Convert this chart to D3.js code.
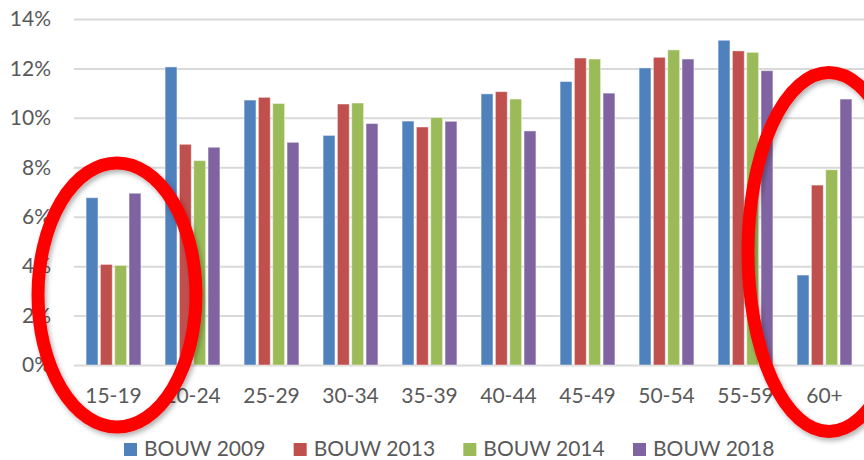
<!DOCTYPE html>
<html>
<head>
<meta charset="utf-8">
<script src="https://cdn.jsdelivr.net/npm/d3@7"></script>
<style>
  html, body { margin: 0; padding: 0; background: #fff; }
  svg { display: block; font-family: Lato, "Open Sans", sans-serif; }
</style>
</head>
<body>
<svg id="chart" width="864" height="460"></svg>
<script>
const categories = ["15-19","20-24","25-29","30-34","35-39","40-44","45-49","50-54","55-59","60+"];
const seriesNames = ["BOUW 2009","BOUW 2013","BOUW 2014","BOUW 2018"];
const bouw2009 = [6.77, 12.06, 10.72, 9.29, 9.87, 10.97, 11.47, 12.02, 13.14, 3.64];
const bouw2013 = [4.07, 8.93, 10.83, 10.56, 9.63, 11.06, 12.42, 12.45, 12.71, 7.28];
const bouw2014 = [4.03, 8.27, 10.58, 10.60, 10.01, 10.76, 12.38, 12.75, 12.65, 7.90];
const bouw2018 = [6.95, 8.81, 9.01, 9.77, 9.86, 9.47, 11.00, 12.38, 11.91, 10.76];
const yTicks = [0, 2, 4, 6, 8, 10, 12, 14];
const colors = ["#4F81BD", "#C0504D", "#9BBB59", "#8064A2"];

const seriesValues = [bouw2009, bouw2013, bouw2014, bouw2018];
const svg = d3.select("#chart");

const plotLeft = 74, plotRight = 864, plotTop = 19, plotBottom = 365;
const fontSize = 21;

const y = d3.scaleLinear().domain([0, 14]).range([plotBottom, plotTop]);
const x0 = d3.scaleBand().domain(categories).range([plotLeft, plotRight])
  .paddingInner(0.275).paddingOuter(0.1375);
const x1 = d3.scaleBand().domain(seriesNames).range([0, x0.bandwidth()])
  .paddingInner(0.17).paddingOuter(0.085);

// gridlines + y labels
const yAxis = d3.axisLeft(y).tickValues(yTicks).tickFormat(d => d + "%")
  .tickSize(-(plotRight - plotLeft)).tickPadding(23);
const gy = svg.append("g").attr("transform", `translate(${plotLeft},0)`).call(yAxis);
gy.select(".domain").remove();
gy.selectAll(".tick line").attr("stroke", "#d9d9d9").attr("stroke-width", 2);
gy.selectAll(".tick text").attr("fill", "#595959").attr("font-size", fontSize)
  .attr("font-family", "Lato, 'Open Sans', sans-serif");

// bars
const groups = svg.append("g").selectAll("g").data(categories).join("g")
  .attr("transform", d => `translate(${x0(d)},0)`);
groups.selectAll("rect")
  .data((c, i) => seriesNames.map((s, k) => ({ s, k, v: seriesValues[k][i] })))
  .join("rect")
  .attr("x", d => x1(d.s))
  .attr("width", x1.bandwidth())
  .attr("y", d => y(d.v))
  .attr("height", d => y(0) - y(d.v))
  .attr("fill", d => colors[d.k])
  .attr("stroke", "rgba(255,255,255,0.45)")
  .attr("stroke-width", 1);

// x axis labels
const xAxis = d3.axisBottom(x0).tickSize(0).tickPadding(23);
const gx = svg.append("g").attr("transform", `translate(0,${plotBottom})`).call(xAxis);
gx.select(".domain").remove();
gx.selectAll(".tick text").attr("fill", "#595959").attr("font-size", fontSize)
  .attr("font-family", "Lato, 'Open Sans', sans-serif");

// legend
const legendX = d3.scalePoint().domain(seriesNames).range([124, 633]);
const lg = svg.append("g").selectAll("g").data(seriesNames).join("g")
  .attr("transform", d => `translate(${legendX(d)},443)`);
lg.append("rect").attr("width", 13).attr("height", 13)
  .attr("fill", (d, i) => colors[i]);
lg.append("text").attr("x", 20).attr("y", 13).text(d => d)
  .attr("fill", "#595959").attr("font-size", fontSize);

// red annotation ellipses
const defs = svg.append("defs");
const f = defs.append("filter").attr("id", "sh").attr("x", "-20%").attr("y", "-20%")
  .attr("width", "140%").attr("height", "140%");
f.append("feDropShadow").attr("dx", 2).attr("dy", 3).attr("stdDeviation", 2.5)
  .attr("flood-color", "#000").attr("flood-opacity", 0.3);

const ann = svg.append("g").attr("filter", "url(#sh)");
ann.append("ellipse").attr("cx", 117).attr("cy", 295).attr("rx", 79).attr("ry", 132)
  .attr("fill", "none").attr("stroke", "#FF0000").attr("stroke-width", 13);
ann.append("ellipse").attr("cx", 829).attr("cy", 252).attr("rx", 81).attr("ry", 179.5)
  .attr("fill", "none").attr("stroke", "#FF0000").attr("stroke-width", 13);
</script>
</body>
</html>
